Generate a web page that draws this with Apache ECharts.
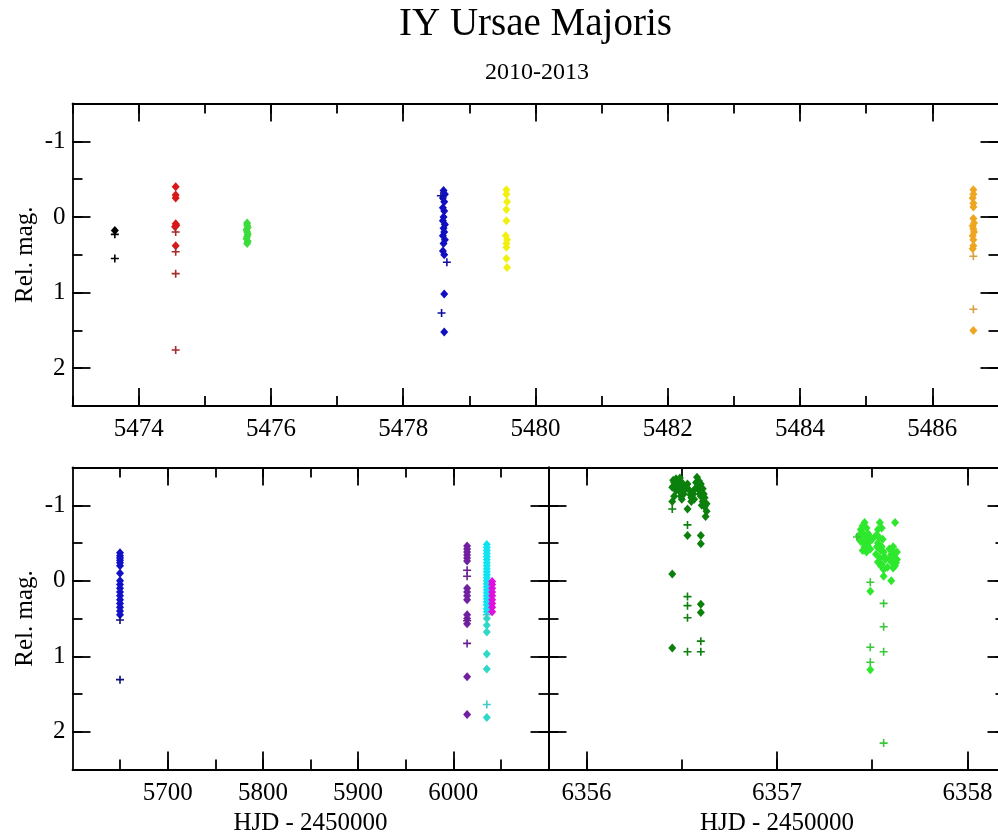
<!DOCTYPE html>
<html>
<head>
<meta charset="utf-8">
<script src="https://cdn.jsdelivr.net/npm/echarts@6/dist/echarts.min.js"></script>
<style>html,body{margin:0;padding:0;background:#fff;}#c{width:998px;height:838px;}</style>
</head>
<body>
<div id="c"></div>
<script>
// ---------- DATA ----------
// Top panel (2010): [HJD-2450000, rel. mag]
const topBlackDiamond = [[5473.64, 0.18]];
const topBlackPlus = [[5473.64, 0.23], [5473.64, 0.55]];
const topRedDiamond = [[5474.56, -0.40], [5474.56, -0.29], [5474.56, -0.25], [5474.56, 0.09], [5474.57, 0.11], [5474.55, 0.13], [5474.56, 0.38]];
const topRedPlus = [[5474.56, 0.20], [5474.56, 0.46], [5474.56, 0.75], [5474.56, 1.76]];
const topGreenDiamond = [[5475.64, 0.08], [5475.64, 0.11], [5475.65, 0.14], [5475.63, 0.17], [5475.64, 0.20], [5475.65, 0.23], [5475.64, 0.26], [5475.63, 0.29], [5475.65, 0.32], [5475.64, 0.35]];
const topBlueDiamond = [[5478.61, -0.35], [5478.63, -0.30], [5478.60, -0.25], [5478.62, -0.20], [5478.60, -0.12], [5478.62, -0.08], [5478.61, 0.00], [5478.60, 0.05], [5478.63, 0.10], [5478.61, 0.15], [5478.62, 0.20], [5478.60, 0.25], [5478.63, 0.30], [5478.61, 0.35], [5478.60, 0.45], [5478.62, 0.50], [5478.62, 1.02], [5478.62, 1.52]];
const topBluePlus = [[5478.57, -0.28], [5478.66, 0.60], [5478.58, 1.27]];
const topYellowDiamond = [[5479.56, -0.36], [5479.56, -0.30], [5479.57, -0.20], [5479.56, -0.10], [5479.56, 0.05], [5479.55, 0.25], [5479.57, 0.30], [5479.56, 0.35], [5479.56, 0.40], [5479.56, 0.55], [5479.57, 0.67]];
const topOrangeDiamond = [[5486.62, -0.36], [5486.62, -0.30], [5486.61, -0.25], [5486.62, -0.18], [5486.62, -0.13], [5486.62, 0.02], [5486.63, 0.08], [5486.61, 0.12], [5486.62, 0.16], [5486.63, 0.20], [5486.61, 0.25], [5486.62, 0.30], [5486.62, 0.38], [5486.61, 0.42], [5486.62, 1.50]];
const topOrangePlus = [[5486.62, 0.52], [5486.62, 1.22]];

// Bottom-left panel (2011-2012)
const blBlueDiamond = [[5649.9, -0.37], [5649.9, -0.33], [5649.9, -0.30], [5649.9, -0.27], [5649.9, -0.24], [5649.9, -0.20], [5649.9, -0.10], [5649.9, 0.00], [5649.9, 0.05], [5649.9, 0.10], [5649.9, 0.15], [5649.9, 0.20], [5649.9, 0.25], [5649.9, 0.30], [5649.9, 0.35], [5649.9, 0.40], [5649.9, 0.45]];
const blBluePlus = [[5649.9, 0.52], [5649.9, 1.31]];
const blPurpleDiamond = [[6014.5, -0.46], [6014.5, -0.42], [6014.5, -0.38], [6014.5, -0.34], [6014.5, -0.30], [6014.5, -0.26], [6014.5, 0.10], [6014.5, 0.15], [6014.5, 0.20], [6014.5, 0.25], [6014.5, 0.45], [6014.5, 0.50], [6014.5, 0.57], [6014.5, 1.27], [6014.5, 1.77]];
const blPurplePlus = [[6014.5, -0.14], [6014.5, -0.06], [6014.5, 0.53], [6014.5, 0.83]];
const blCyanDiamond = [[6035.2, -0.48], [6035.2, -0.44], [6035.2, -0.40], [6035.2, -0.36], [6035.2, -0.32], [6035.2, -0.28], [6035.2, -0.24], [6035.2, -0.20], [6035.2, -0.16], [6035.2, -0.12], [6035.2, -0.08], [6035.2, -0.04], [6035.2, 0.00], [6035.2, 0.04], [6035.2, 0.08], [6035.2, 0.12], [6035.2, 0.16], [6035.2, 0.20], [6035.2, 0.24], [6035.2, 0.28], [6035.2, 0.32], [6035.2, 0.37], [6035.2, 0.41]];
const blCyanLowDiamond = [[6035.2, 0.50], [6035.2, 0.59], [6035.2, 0.68], [6035.2, 0.97], [6035.2, 1.17], [6035.2, 1.81]];
const blCyanPlus = [[6035.2, 0.45], [6035.2, 1.64]];
const blMagentaDiamond = [[6040.8, 0.01], [6040.8, 0.05], [6040.8, 0.10], [6040.8, 0.15], [6040.8, 0.20], [6040.8, 0.25], [6040.8, 0.30], [6040.8, 0.35], [6040.8, 0.41]];

// Bottom-right panel (2013)
const brDarkGreenDiamond = [
  [6356.45, -1.24], [6356.46, -1.30], [6356.47, -1.35], [6356.48, -1.28], [6356.49, -1.36], [6356.50, -1.30], [6356.51, -1.25],
  [6356.47, -1.20], [6356.49, -1.18], [6356.51, -1.15], [6356.46, -1.12], [6356.52, -1.22], [6356.53, -1.28], [6356.50, -1.08],
  [6356.455, -1.33], [6356.485, -1.22], [6356.505, -1.20], [6356.475, -1.26], [6356.495, -1.12],
  [6356.54, -1.20], [6356.55, -1.10], [6356.56, -1.15], [6356.55, -1.05], [6356.57, -1.22], [6356.545, -1.14], [6356.565, -1.08],
  [6356.575, -1.30], [6356.58, -1.37], [6356.59, -1.32], [6356.60, -1.28], [6356.59, -1.20], [6356.60, -1.12], [6356.61, -1.05],
  [6356.62, -1.10], [6356.62, -0.98], [6356.63, -0.92], [6356.625, -0.85], [6356.63, -1.02], [6356.61, -1.22],
  [6356.585, -1.25], [6356.595, -1.15], [6356.615, -1.15], [6356.605, -1.00],
  [6356.45, -1.05], [6356.53, -0.95], [6356.53, -0.60], [6356.60, -0.60], [6356.60, -0.49], [6356.45, -0.09],
  [6356.60, 0.31], [6356.60, 0.42], [6356.45, 0.89]];
const brDarkGreenPlus = [[6356.45, -0.95], [6356.53, -0.74], [6356.53, 0.21], [6356.53, 0.33], [6356.53, 0.49], [6356.60, 0.80], [6356.53, 0.94], [6356.60, 0.94]];
const brGreenDiamond = [
  [6357.43, -0.60], [6357.44, -0.68], [6357.45, -0.73], [6357.46, -0.77], [6357.47, -0.70], [6357.48, -0.62], [6357.44, -0.52],
  [6357.46, -0.45], [6357.48, -0.50], [6357.50, -0.55], [6357.45, -0.40], [6357.47, -0.38], [6357.49, -0.42],
  [6357.435, -0.56], [6357.455, -0.62], [6357.465, -0.55], [6357.475, -0.47], [6357.485, -0.58], [6357.455, -0.50],
  [6357.52, -0.60], [6357.53, -0.68], [6357.54, -0.77], [6357.55, -0.70], [6357.53, -0.50], [6357.55, -0.45], [6357.52, -0.35],
  [6357.54, -0.30], [6357.56, -0.38], [6357.55, -0.22], [6357.53, -0.25], [6357.57, -0.28], [6357.56, -0.15],
  [6357.525, -0.45], [6357.535, -0.58], [6357.545, -0.40], [6357.555, -0.55], [6357.565, -0.32], [6357.545, -0.20],
  [6357.59, -0.42], [6357.60, -0.35], [6357.61, -0.45], [6357.62, -0.30], [6357.63, -0.38], [6357.60, -0.25], [6357.62, -0.20],
  [6357.58, -0.18], [6357.61, -0.17], [6357.63, -0.28], [6357.595, -0.30], [6357.615, -0.38], [6357.625, -0.24],
  [6357.62, -0.77], [6357.56, -0.06], [6357.60, 0.00], [6357.49, 0.14], [6357.49, 1.18]];
const brGreenPlus = [[6357.42, -0.58], [6357.49, 0.02], [6357.56, 0.30], [6357.56, 0.61], [6357.49, 0.88], [6357.56, 0.94], [6357.49, 1.08], [6357.56, 2.15]];

// Tick values
const topXMajor = [5474, 5476, 5478, 5480, 5482, 5484, 5486];
const topXMinor = [5473, 5474, 5475, 5476, 5477, 5478, 5479, 5480, 5481, 5482, 5483, 5484, 5485, 5486, 5487];
const blXMajor = [5700, 5800, 5900, 6000];
const blXMinor = [5650, 5700, 5750, 5800, 5850, 5900, 5950, 6000, 6050];
const brXMajor = [6356, 6357, 6358];
const brXMinor = [6356, 6356.5, 6357, 6357.5, 6358];
const yMajor = [-1, 0, 1, 2];
const yMinor = [-1, -0.5, 0, 0.5, 1, 1.5, 2];

// ---------- CHART ----------
const FONT = "'Liberation Serif','DejaVu Serif',serif";
const LW = 1.8;
const line = {color: '#000', width: LW};

const grids = [
  {left: 72.5, top: 103.5, width: 926, height: 302.5, outerBoundsMode: 'none', containLabel: false},
  {left: 72.5, top: 467.5, width: 476, height: 302, outerBoundsMode: 'none', containLabel: false},
  {left: 548.5, top: 467.5, width: 457, height: 302, outerBoundsMode: 'none', containLabel: false}
];

const xAxes = [], yAxes = [];
function addAxes(g, xr, xMaj, xMin, showY, nameX) {
  ['bottom', 'top'].forEach(pos => {
    xAxes.push({
      gridIndex: g, type: 'value', position: pos, min: xr[0], max: xr[1],
      axisLine: {show: true, onZero: false, lineStyle: line},
      axisTick: {show: true, inside: true, length: 18, customValues: xMaj, lineStyle: line},
      axisLabel: {show: pos === 'bottom', customValues: xMaj, formatter: v => String(v),
        fontFamily: FONT, fontSize: 25, color: '#000', margin: 11},
      splitLine: {show: false},
      name: (pos === 'bottom' && nameX) ? nameX : '', nameLocation: 'middle', nameGap: 41, nameMoveOverlap: false,
      nameTextStyle: {fontFamily: FONT, fontSize: 25, color: '#000'}
    });
    xAxes.push({
      gridIndex: g, type: 'value', position: pos, min: xr[0], max: xr[1],
      axisLine: {show: false, onZero: false},
      axisTick: {show: true, inside: true, length: 10, customValues: xMin, lineStyle: line},
      axisLabel: {show: false}, splitLine: {show: false}
    });
  });
  ['left', 'right'].forEach(pos => {
    yAxes.push({
      gridIndex: g, type: 'value', position: pos, min: -1.5, max: 2.5, inverse: true,
      axisLine: {show: true, onZero: false, lineStyle: line},
      axisTick: {show: true, inside: true, length: 18, customValues: yMajor, lineStyle: line},
      axisLabel: {show: pos === 'left' && showY, customValues: yMajor, formatter: v => String(v),
        fontFamily: FONT, fontSize: 25, color: '#000', margin: 7},
      splitLine: {show: false},
      name: (pos === 'left' && showY) ? 'Rel. mag.' : '', nameLocation: 'middle', nameGap: 35, nameRotate: 90,
      nameMoveOverlap: false,
      nameTextStyle: {fontFamily: FONT, fontSize: 25, color: '#000'}
    });
    yAxes.push({
      gridIndex: g, type: 'value', position: pos, min: -1.5, max: 2.5, inverse: true,
      axisLine: {show: false, onZero: false},
      axisTick: {show: true, inside: true, length: 10, customValues: yMinor, lineStyle: line},
      axisLabel: {show: false}, splitLine: {show: false}
    });
  });
}
addAxes(0, [5473, 5487], topXMajor, topXMinor, true, '');
addAxes(1, [5600, 6100], blXMajor, blXMinor, true, 'HJD - 2450000');
addAxes(2, [6355.8, 6358.2], brXMajor, brXMinor, false, 'HJD - 2450000');

const PLUS = 'path://M4,0L6,0L6,4L10,4L10,6L6,6L6,10L4,10L4,6L0,6L0,4L4,4Z';
function sc(g, data, color, kind) {
  return {
    type: 'scatter', xAxisIndex: g * 4, yAxisIndex: g * 4, data: data,
    symbol: kind === 'plus' ? PLUS : 'diamond',
    symbolSize: kind === 'plus' ? 8 : [8, 9],
    itemStyle: {color: color, opacity: 1}, silent: true, animation: false
  };
}
const series = [
  sc(0, topBlackDiamond, '#000000'), sc(0, topBlackPlus, '#000000', 'plus'),
  sc(0, topRedDiamond, '#d81818'), sc(0, topRedPlus, '#a52a2a', 'plus'),
  sc(0, topGreenDiamond, '#3cdc3c'),
  sc(0, topBlueDiamond, '#1010c0'), sc(0, topBluePlus, '#1010a0', 'plus'),
  sc(0, topYellowDiamond, '#f2f010'),
  sc(0, topOrangeDiamond, '#eea520'), sc(0, topOrangePlus, '#d8a040', 'plus'),
  sc(1, blBlueDiamond, '#1010c8'), sc(1, blBluePlus, '#101080', 'plus'),
  sc(1, blPurpleDiamond, '#7020a0'), sc(1, blPurplePlus, '#6a2090', 'plus'),
  sc(1, blCyanDiamond, '#10e4f0'), sc(1, blCyanLowDiamond, '#30d8c8'), sc(1, blCyanPlus, '#40c8c8', 'plus'),
  sc(1, blMagentaDiamond, '#e010e0'),
  sc(2, brDarkGreenDiamond, '#0c800c'), sc(2, brDarkGreenPlus, '#0c800c', 'plus'),
  sc(2, brGreenDiamond, '#2ee82e'), sc(2, brGreenPlus, '#38c838', 'plus')
];

const chart = echarts.init(document.getElementById('c'), null, {renderer: 'canvas'});
chart.setOption({
  backgroundColor: '#fff',
  animation: false,
  grid: grids,
  xAxis: xAxes,
  yAxis: yAxes,
  series: series,
  graphic: [
    {type: 'text', left: 399, top: 5, style: {text: 'IY Ursae Majoris', fontFamily: FONT, fontSize: 39, fill: '#000'}},
    {type: 'text', left: 485, top: 61, style: {text: '2010-2013', fontFamily: FONT, fontSize: 24, fill: '#000'}}
  ]
});
</script>
</body>
</html>
